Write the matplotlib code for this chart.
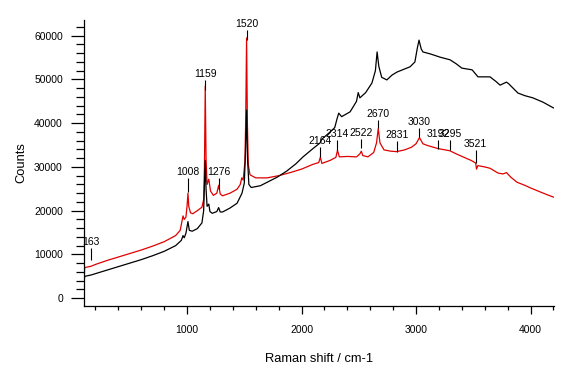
import matplotlib
matplotlib.use('Agg')
import matplotlib.pyplot as plt
from matplotlib.ticker import MultipleLocator

plt.rcParams['font.family'] = ['Liberation Sans', 'DejaVu Sans']

# Red spectrum (Raman shift, counts)
red_x = [100, 105, 110, 163, 200, 300, 400, 500, 600, 700, 800, 900, 940, 955, 965, 975,
         990, 1000, 1008, 1015, 1030, 1050, 1090, 1130, 1145, 1152, 1159, 1166, 1175, 1190,
         1205, 1230, 1260, 1276, 1290, 1310, 1375, 1437, 1465, 1478, 1490, 1505, 1512, 1520,
         1527, 1535, 1550, 1600, 1700, 1800, 1900, 2000, 2100, 2150, 2164, 2178, 2250, 2300,
         2314, 2330, 2400, 2480, 2510, 2522, 2535, 2580, 2630, 2655, 2670, 2685, 2720, 2780,
         2831, 2900, 2960, 3000, 3030, 3060, 3100, 3192, 3295, 3350, 3410, 3480, 3521, 3528,
         3540, 3600, 3646, 3716, 3760, 3790, 3830, 3882, 3950, 4000, 4083, 4150, 4200]
red_y = [2500, 6800, 7000, 7300, 7700, 8600, 9400, 10200, 11000, 11900, 12900, 14300, 15500,
         17500, 18800, 18000, 18500, 21000, 24000, 21000, 19500, 19300, 20000, 20800, 22500,
         30000, 48500, 32000, 26000, 27200, 24500, 23500, 24000, 25800, 23800, 23400, 24000,
         24900, 26000, 27500, 27000, 31000, 40000, 59500, 40000, 30500, 28200, 27500, 27500,
         28000, 28700, 29500, 30600, 31000, 32200, 30800, 31500, 32200, 33800, 32300, 32400,
         32300, 33000, 33600, 32600, 32300, 33300, 35500, 38800, 35500, 33900, 33600, 33500,
         33900, 34500, 35300, 36700, 35300, 34900, 34200, 33700, 33000, 32300, 31500, 30900,
         29500, 30300, 30000, 29700, 28600, 28400, 28700, 27600, 26500, 25800, 25200, 24300,
         23600, 23100]

# Black spectrum (Raman shift, counts)
black_x = [100, 105, 110, 163, 200, 300, 400, 500, 600, 700, 800, 900, 950, 965, 975, 990,
           1008, 1020, 1045, 1090, 1130, 1145, 1152, 1159, 1166, 1175, 1190, 1200, 1220, 1260,
           1276, 1290, 1310, 1375, 1437, 1480, 1500, 1510, 1520, 1528, 1540, 1560, 1640, 1700,
           1790, 1873, 1950, 2013, 2100, 2162, 2175, 2250, 2290, 2310, 2325, 2350, 2424, 2450,
           2480, 2495, 2510, 2560, 2615, 2645, 2660, 2675, 2700, 2745, 2790, 2834, 2948, 2990,
           3010, 3026, 3045, 3060, 3130, 3210, 3297, 3350, 3400, 3490, 3541, 3646, 3700, 3734,
           3790, 3810, 3890, 3950, 4020, 4110, 4200]
black_y = [3500, 4800, 5000, 5300, 5600, 6400, 7200, 8000, 8800, 9700, 10700, 12000, 13200,
           14300, 13800, 14800, 17500, 15500, 15300, 15900, 17200, 20000, 26000, 31500, 25000,
           21000, 21500, 19800, 19400, 19800, 20700, 19700, 19700, 20600, 21700, 24000, 26300,
           33000, 43000, 32000, 26000, 25300, 25700, 26500, 27700, 29100, 30700, 32300, 34200,
           35500, 36300, 38000, 39000, 41000, 42300, 41500, 42600, 43700, 45000, 47000, 45800,
           47000, 49200, 52000, 56300, 53000, 50500, 49900, 51000, 51700, 52900, 54000, 57000,
           59000, 57000, 56300, 55800, 55100, 54500, 53600, 52600, 52200, 50600, 50600, 49500,
           48700, 49400, 49000, 46900, 46300, 45800, 44800, 43500]

# Peak annotations
peak_labels = ['163', '1008', '1159', '1276', '1520', '2164', '2314', '2522', '2670',
               '2831', '3030', '3192', '3295', '3521']
peak_x = [163, 1008, 1159, 1276, 1520, 2164, 2314, 2522, 2670, 2831, 3030, 3192, 3295, 3521]
tick_top = [11400, 27500, 49900, 27500, 61300, 34500, 36100, 36400, 40700, 35900, 38900,
            36100, 36100, 33900]
tick_bottom = [8700, 24300, 47600, 24900, 59000, 32300, 33900, 34300, 38900, 33400, 36800,
               34100, 33900, 30900]

fig = plt.figure(figsize=(5.81, 3.70), dpi=100)
ax = fig.add_axes([84 / 581, 64 / 370, 470 / 581, 286 / 370])

ax.plot(red_x, red_y, color='#e00000', lw=0.9)
ax.plot(black_x, black_y, color='black', lw=0.9)

ax.vlines(peak_x, tick_bottom, tick_top, color='black', lw=0.8)
for lab, px, top in zip(peak_labels, peak_x, tick_top):
    ax.annotate(lab, xy=(px, top), xytext=(0, 2), textcoords='offset points',
                ha='center', va='baseline', fontsize=7.5)

ax.set_xlim(100, 4205)
ax.set_ylim(-1800, 63600)

ax.xaxis.set_major_locator(MultipleLocator(1000))
ax.xaxis.set_minor_locator(MultipleLocator(200))
ax.yaxis.set_major_locator(MultipleLocator(10000))
ax.yaxis.set_minor_locator(MultipleLocator(2000))

for s in ['top', 'right']:
    ax.spines[s].set_visible(False)
for s in ['left', 'bottom']:
    ax.spines[s].set_linewidth(0.9)

ax.tick_params(axis='x', which='major', length=6, width=0.9, pad=8, labelsize=7.5)
ax.tick_params(axis='x', which='minor', length=3, width=0.9)
ax.tick_params(axis='y', which='major', length=9.4, width=0.9, pad=5.8, labelsize=7.5)
ax.tick_params(axis='y', which='minor', length=5.8, width=0.9)

ax.set_xlabel('Raman shift / cm-1', fontsize=9.3, labelpad=13)
ax.set_ylabel('Counts', fontsize=9.3, labelpad=5)

fig.savefig('out.png', dpi=100)
